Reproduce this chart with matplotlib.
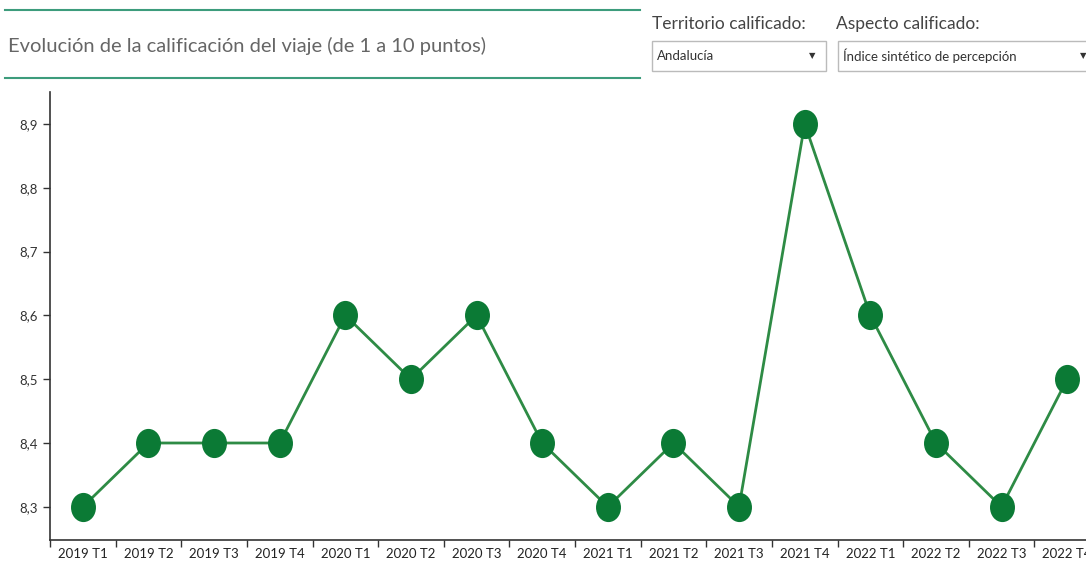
import numpy as np
import matplotlib
matplotlib.use('Agg')
import matplotlib.pyplot as plt
from matplotlib.patches import Rectangle
from matplotlib.lines import Line2D
from matplotlib.path import Path

periodos = ['2019 T1', '2019 T2', '2019 T3', '2019 T4',
            '2020 T1', '2020 T2', '2020 T3', '2020 T4',
            '2021 T1', '2021 T2', '2021 T3', '2021 T4',
            '2022 T1', '2022 T2', '2022 T3', '2022 T4']
calificacion = [8.3, 8.4, 8.4, 8.4, 8.6, 8.5, 8.6, 8.4,
                8.3, 8.4, 8.3, 8.9, 8.6, 8.4, 8.3, 8.5]
yticks = [8.3, 8.4, 8.5, 8.6, 8.7, 8.8, 8.9]

plt.rcParams['font.family'] = ['Lato', 'DejaVu Sans']

W, H = 1086, 566
fig = plt.figure(figsize=(W/100, H/100), dpi=100)

# slightly tall ellipse, like the stretched circles of the original
circ = Path.unit_circle()
elipse = Path(circ.vertices * np.array([1.0, 1.18]), circ.codes)

# axes: left spine at x=50, bottom at y=540, top at y=92, 16 bands of ~65.6 px
ax = fig.add_axes([50/W, 1-540/H, 1050/W, 448/H])
x = np.arange(len(periodos))
ax.plot(x, calificacion, color='#2e8b45', lw=2, zorder=2)
ax.plot(x, calificacion, ls='none', marker=elipse, ms=20, color='#0b7a35', zorder=3)

ax.set_xlim(-0.5, len(periodos)-0.5)
ax.set_ylim(8.248, 8.95)
ax.set_xticks(np.arange(-0.5, len(periodos), 1.0))
ax.set_xticklabels([])
ax.set_xticks(x, minor=True)
ax.set_xticklabels(periodos, minor=True)
ax.tick_params(axis='x', which='major', length=5, width=1, color='#333333')
ax.tick_params(axis='x', which='minor', length=0, labelsize=9.5, pad=6, labelcolor='#222222')
ax.set_yticks(yticks)
ax.set_yticklabels([('%.1f' % v).replace('.', ',') for v in yticks])
ax.tick_params(axis='y', length=5, width=1, labelsize=9.5, labelcolor='#333333', color='#333333')
for s in ['top', 'right']:
    ax.spines[s].set_visible(False)
for s in ['left', 'bottom']:
    ax.spines[s].set_color('#333333')
    ax.spines[s].set_linewidth(1.2)

# header
fig.add_artist(Line2D([5/W, 640/W], [1-10/H, 1-10/H], color='#3d9c7c', lw=1.5))
fig.add_artist(Line2D([5/W, 640/W], [1-78/H, 1-78/H], color='#3d9c7c', lw=1.5))
fig.text(8/W, 1-46/H, 'Evolución de la calificación del viaje (de 1 a 10 puntos)',
         fontsize=14.5, color='#666666', va='center', ha='left')

fig.text(652/W, 1-24/H, 'Territorio calificado:', fontsize=12.5, color='#444444', va='center')
fig.text(836/W, 1-24/H, 'Aspecto calificado:', fontsize=12.5, color='#444444', va='center')
fig.add_artist(Rectangle((652/W, 1-71/H), 174/W, 30/H, fill=False, ec='#bbbbbb', lw=1))
fig.add_artist(Rectangle((838/W, 1-71/H), 260/W, 30/H, fill=False, ec='#bbbbbb', lw=1))
fig.text(657/W, 1-56/H, 'Andalucía', fontsize=9.5, color='#333333', va='center')
fig.text(843/W, 1-56/H, 'Índice sintético de percepción', fontsize=9.5, color='#333333', va='center')
fig.text(812/W, 1-56/H, '▼', fontsize=6, color='#333333', va='center', ha='center', family='DejaVu Sans')
fig.text(1083/W, 1-56/H, '▼', fontsize=6, color='#333333', va='center', ha='center', family='DejaVu Sans')

fig.savefig('out.png', dpi=100)
